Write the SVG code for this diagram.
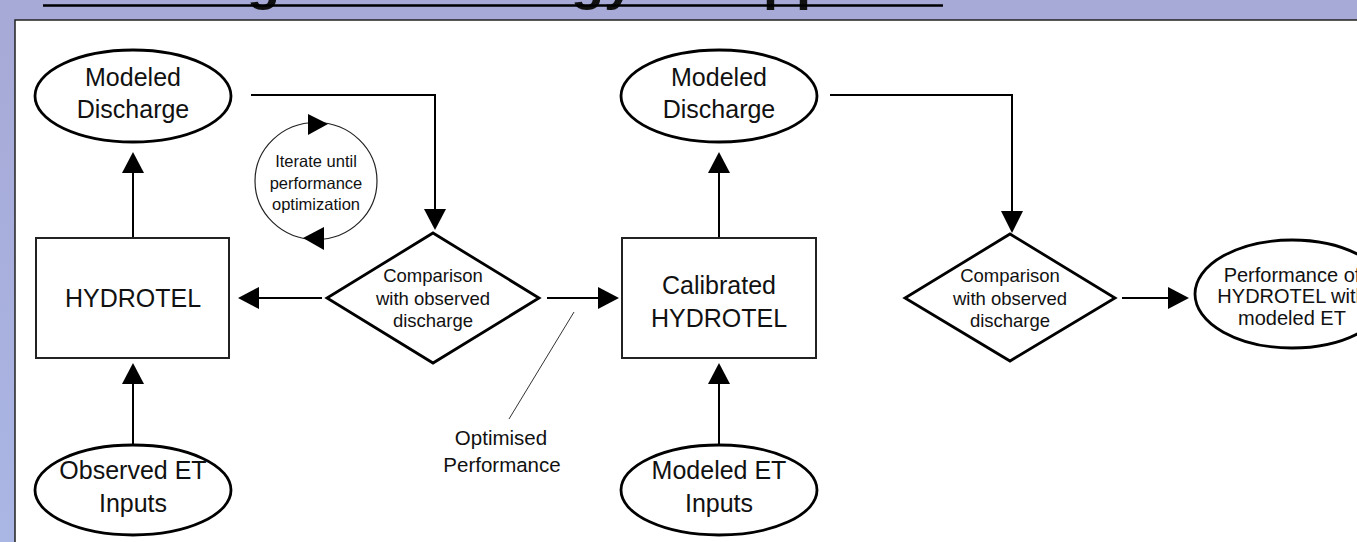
<svg xmlns="http://www.w3.org/2000/svg" width="1357" height="542" viewBox="0 0 1357 542">
<defs>
<linearGradient id="bg" x1="0" y1="0" x2="0" y2="1">
<stop offset="0" stop-color="#A7A9D6"/>
<stop offset="1" stop-color="#AAB6E4"/>
</linearGradient>
<style>
text{font-family:"Liberation Sans",Arial,sans-serif;fill:#111;text-anchor:middle}
.n{font-size:25px}
.s{font-size:18.5px}
.t{font-size:16.5px}
.node{fill:#fff;stroke:#000;stroke-width:2.8}
.box{fill:#fff;stroke:#222;stroke-width:2}
.ln{fill:none;stroke:#000;stroke-width:2}
.ah{fill:#000}
</style>
</defs>
<rect x="0" y="0" width="1357" height="542" fill="url(#bg)"/>
<g id="title">
<text x="43" y="-1" style="font-size:54px;font-weight:bold;text-anchor:start">Modeling methodology <tspan x="733">approach</tspan></text>
<line x1="43" y1="5.5" x2="943" y2="5.5" stroke="#000" stroke-width="2.5"/>
</g>
<rect x="15" y="20" width="1350" height="530" fill="#fff" stroke="#222" stroke-width="1.5"/>

<g id="connectors">
<line class="ln" x1="133" y1="238" x2="133" y2="172"/>
<polygon class="ah" points="133,152 122,173 144,173"/>
<line class="ln" x1="133" y1="445" x2="133" y2="383"/>
<polygon class="ah" points="133,363 122,384 144,384"/>
<polyline class="ln" points="251,95 435,95 435,210"/>
<polygon class="ah" points="435,230 424,209 446,209"/>
<line class="ln" x1="322" y1="298" x2="257" y2="298"/>
<polygon class="ah" points="238,298 259,287 259,309"/>
<line class="ln" x1="547" y1="298" x2="600" y2="298"/>
<polygon class="ah" points="619,298 598,287 598,309"/>
<line x1="574" y1="312" x2="509" y2="419" stroke="#333" stroke-width="1"/>
<line class="ln" x1="719" y1="238" x2="719" y2="172"/>
<polygon class="ah" points="719,152 708,173 730,173"/>
<line class="ln" x1="719" y1="445" x2="719" y2="383"/>
<polygon class="ah" points="719,363 708,384 730,384"/>
<polyline class="ln" points="830,95 1012,95 1012,212"/>
<polygon class="ah" points="1012,233 1001,211 1023,211"/>
<line class="ln" x1="1122" y1="298" x2="1170" y2="298"/>
<polygon class="ah" points="1189,298 1168,287 1168,309"/>
</g>

<g id="iterate">
<ellipse cx="316" cy="181" rx="61" ry="58.5" fill="none" stroke="#222" stroke-width="1.2"/>
<polygon class="ah" points="328,124 308,114 308,135"/>
<polygon class="ah" points="303,238 324,227 324,250"/>
<text class="t" x="316" y="167">Iterate until</text>
<text class="t" x="316" y="189">performance</text>
<text class="t" x="316" y="210">optimization</text>
</g>

<g id="modeled-discharge-1">
<ellipse class="node" cx="133" cy="96" rx="98" ry="46"/>
<text class="n" x="133" y="86">Modeled</text>
<text class="n" x="133" y="118">Discharge</text>
</g>
<g id="hydrotel">
<rect class="box" x="36" y="238" width="193" height="120"/>
<text class="n" x="133" y="307">HYDROTEL</text>
</g>
<g id="observed-et">
<ellipse class="node" cx="133" cy="490" rx="98" ry="45"/>
<text class="n" x="133" y="479">Observed ET</text>
<text class="n" x="133" y="512">Inputs</text>
</g>
<g id="comparison-1">
<polygon class="node" points="433,233 539,298 433,363 327,298"/>
<text class="s" x="433" y="282">Comparison</text>
<text class="s" x="433" y="305">with observed</text>
<text class="s" x="433" y="327">discharge</text>
</g>
<g id="optimised">
<text style="font-size:20.5px" x="501" y="445">Optimised</text>
<text style="font-size:20.5px" x="502" y="472">Performance</text>
</g>
<g id="calibrated">
<rect class="box" x="622" y="238" width="194" height="120"/>
<text class="n" x="719" y="294">Calibrated</text>
<text class="n" x="719" y="327">HYDROTEL</text>
</g>
<g id="modeled-discharge-2">
<ellipse class="node" cx="719" cy="96" rx="98" ry="46"/>
<text class="n" x="719" y="86">Modeled</text>
<text class="n" x="719" y="118">Discharge</text>
</g>
<g id="modeled-et">
<ellipse class="node" cx="719" cy="490" rx="98" ry="45"/>
<text class="n" x="719" y="479">Modeled ET</text>
<text class="n" x="719" y="512">Inputs</text>
</g>
<g id="comparison-2">
<polygon class="node" points="1010,234 1115,298 1010,361 905,298"/>
<text class="s" x="1010" y="282">Comparison</text>
<text class="s" x="1010" y="305">with observed</text>
<text class="s" x="1010" y="327">discharge</text>
</g>
<g id="performance">
<ellipse class="node" cx="1292" cy="294" rx="97" ry="54"/>
<text style="font-size:20px" x="1292" y="282">Performance of</text>
<text style="font-size:20px" x="1292" y="303">HYDROTEL with</text>
<text style="font-size:20px" x="1292" y="325">modeled ET</text>
</g>
</svg>
